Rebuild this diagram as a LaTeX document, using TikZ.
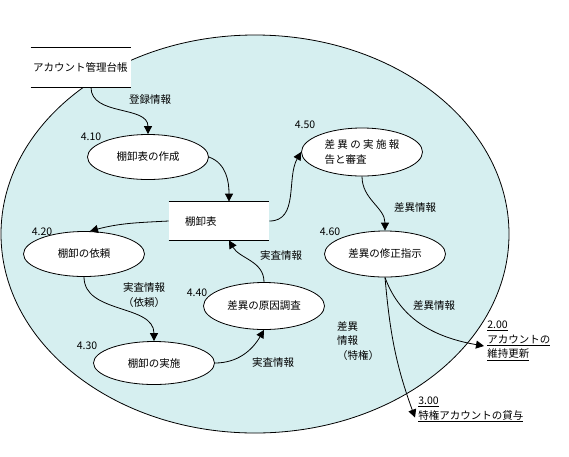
\documentclass[tikz,border=0pt]{standalone}
\usepackage{fontspec}
\setmainfont{Noto Sans CJK JP}
\usetikzlibrary{positioning, arrows.meta, shapes.geometric}
\definecolor{AreaB}{HTML}{D6EFF0}
\newcommand{\jfont}{\fontsize{10.5}{14.5}\selectfont}
\tikzset{
  sys/.style={draw, ellipse, fill=AreaB, minimum width=508pt, minimum height=398pt, inner sep=0pt},
  store/.style={fill=white, minimum height=39pt, inner xsep=2pt, inner ysep=0pt, align=left, font=\jfont},
  proc/.style={draw, ellipse, fill=white, minimum width=121pt, minimum height=45pt, inner sep=0pt, align=left, font=\jfont},
  num/.style={font=\jfont, inner sep=0pt},
  lbl/.style={font=\jfont, inner sep=0pt, align=left},
  ext/.style={font=\jfont, inner sep=3pt, align=left, anchor=west},
  arr/.style={-{Triangle[length=8pt, width=8pt]}}
}

\begin{document}
\begin{tikzpicture}[x=1pt, y=-1pt, line width=0.8pt]
  \useasboundingbox (0,0) rectangle (569,456);
  % system boundary
  \node[sys] (sysarea) at (255,234) {};

  % data stores
  \node[store, text width=96pt] (acct) at (81,67.5) {アカウント管理台帳};
  \draw (acct.north west) -- (acct.north east) (acct.south west) -- (acct.south east);
  \node[store, text width=68pt, inner xsep=16pt, minimum height=38pt] (tab) at (219,221) {棚卸表};
  \draw (tab.north west) -- (tab.north east) (tab.south west) -- (tab.south east);

  % processes
  \node[proc] (p410) at (148,157) {棚卸表の作成};
  \node[proc] (p420) at (84,254) {棚卸の依頼};
  \node[proc, minimum height=43pt] (p430) at (154,363) {棚卸の実施};
  \node[proc, minimum height=47pt] (p440) at (264,306) {差異の原因調査};
  \node[proc, minimum height=48pt] (p450) at (362,152) {差 異 の 実 施 報\\告と審査};
  \node[proc, minimum height=46pt] (p460) at (385,254) {差異の修正指示};

  \node[num] (n410) at (91,137) {4.10};
  \node[num] (n420) at (42,232) {4.20};
  \node[num] (n430) at (87,346) {4.30};
  \node[num] (n440) at (197,293) {4.40};
  \node[num] (n450) at (305,125) {4.50};
  \node[num] (n460) at (330,232) {4.60};

  % external processes
  \node[ext] (d200) at (484,341) {\underline{2.00}\\\underline{アカウントの}\\\underline{維持更新}};
  \node[ext] (d300) at (415,409.5) {\underline{3.00}\\\underline{特権アカウントの貸与}};

  % flows
  \draw[arr] ([xshift=10pt]acct.south) to[out=-90, in=90] (p410.north);
  \draw[arr] (p410.east) to[out=-20, in=90] ([xshift=10pt]tab.north);
  \draw[arr] (tab.east) to[out=0, in=-120] (p450.west);
  \draw[arr] (p450.south) to[out=-90, in=90] (p460.north);
  \draw[arr] (tab.west) to[out=183, in=15] ([xshift=6pt]p420.north);
  \draw[arr] (p420.south) to[out=-90, in=90] (p430.north);
  \draw[arr] (p430.east) to[out=0, in=-120] (p440.south);
  \draw[arr] (p440.north) to[out=90, in=-60] ([xshift=10pt]tab.south);
  \draw[arr] (p460.south) to[out=-70, in=170] ([yshift=-5pt]d200.west);
  \draw[arr] (p460.south) to[out=-85, in=110] ([yshift=-8pt]d300.west);

  \node[lbl] (l1) at (150,100) {登録情報};
  \node[lbl] (l2) at (415,208) {差異情報};
  \node[lbl] (l3) at (144,295) {実査情報\\（依頼）};
  \node[lbl] (l4) at (273,363) {実査情報};
  \node[lbl] (l5) at (281,256) {実査情報};
  \node[lbl] (l6) at (434,305) {差異情報};
  \node[lbl] (l7) at (358,341) {差異\\情報\\（特権）};
\end{tikzpicture}
\end{document}
